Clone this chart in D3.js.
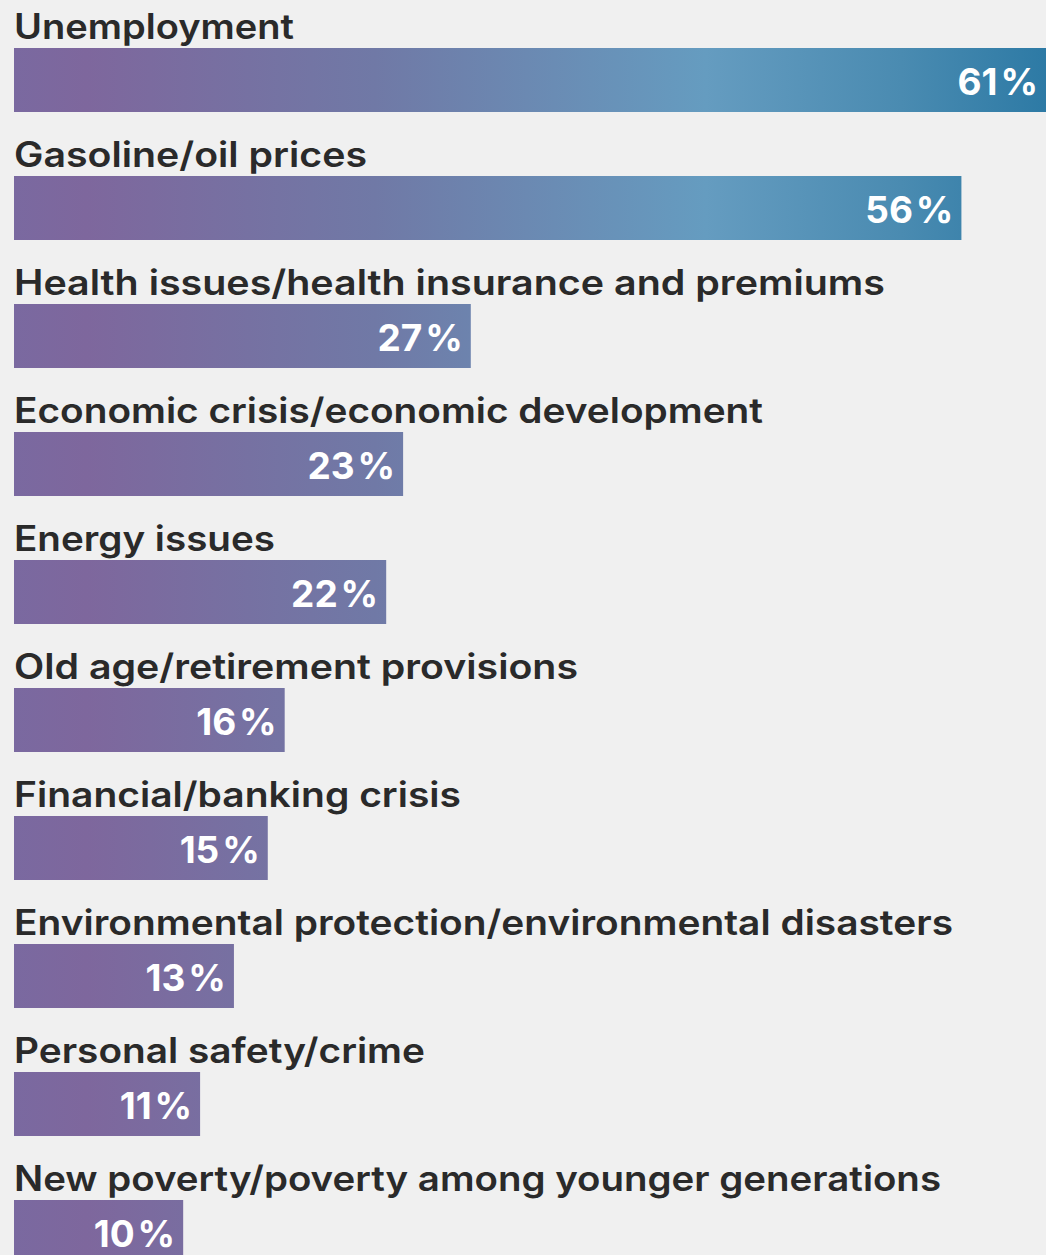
<!DOCTYPE html>
<html>
<head>
<meta charset="utf-8">
<script src="https://cdn.jsdelivr.net/npm/d3@7"></script>
<style>
  body { margin: 0; background: #f0f0f0; }
  svg { display: block; }
  .label { font-family: Inter, "Liberation Sans", sans-serif; font-weight: 600; fill: #2a2a2a; }
  .value { font-family: Inter, "Liberation Sans", sans-serif; font-weight: 700; fill: #fff; }
</style>
</head>
<body>
<svg width="1046" height="1255"></svg>
<script>
"use strict";

var categories = [
  "Unemployment",
  "Gasoline/oil prices",
  "Health issues/health insurance and premiums",
  "Economic crisis/economic development",
  "Energy issues",
  "Old age/retirement provisions",
  "Financial/banking crisis",
  "Environmental protection/environmental disasters",
  "Personal safety/crime",
  "New poverty/poverty among younger generations"
];
var values = [61, 56, 27, 23, 22, 16, 15, 13, 11, 10];
// measured label widths in the reference, px
var labelWidths = [280, 353, 871, 749, 261, 564, 447, 939, 411, 927];

var svg = d3.select("svg");
var width = 1046, height = 1255;

var x = d3.scaleLinear().domain([0, 61]).range([14, 1046]);
var y = d3.scaleBand().domain(categories).range([0, 1280]);

var grad = svg.append("defs").append("linearGradient")
    .attr("id", "barGradient")
    .attr("gradientUnits", "userSpaceOnUse")
    .attr("x1", x(0)).attr("x2", x(61)).attr("y1", 0).attr("y2", 0);
grad.selectAll("stop")
  .data([
    {o: 0, c: "#7a69a0"},
    {o: 0.07, c: "#7e679d"},
    {o: 0.35, c: "#7079a6"},
    {o: 0.67, c: "#659cc0"},
    {o: 0.86, c: "#4a8bb1"},
    {o: 1, c: "#2d7aa5"}
  ])
  .enter().append("stop")
    .attr("offset", function(d) { return d.o; })
    .attr("stop-color", function(d) { return d.c; });

var row = svg.selectAll("g.row")
  .data(categories)
  .enter().append("g")
    .attr("class", "row")
    .attr("transform", function(d) { return "translate(0," + y(d) + ")"; });

row.append("text")
    .attr("class", "label")
    .attr("x", x(0))
    .attr("y", 39)
    .attr("font-size", 35)
    .attr("textLength", function(d, i) { return labelWidths[i]; })
    .attr("lengthAdjust", "spacingAndGlyphs")
    .text(function(d) { return d; });

row.append("rect")
    .attr("x", x(0))
    .attr("y", 48)
    .attr("height", 64)
    .attr("width", function(d, i) { return x(values[i]) - x(0); })
    .style("fill", "url(#barGradient)");

row.append("text")
    .attr("class", "value")
    .attr("x", function(d, i) { return x(values[i]) - 8; })
    .attr("y", 95)
    .attr("font-size", 37)
    .attr("text-anchor", "end")
    .text(function(d, i) { return values[i] + "\u200A%"; });
</script>
</body>
</html>
